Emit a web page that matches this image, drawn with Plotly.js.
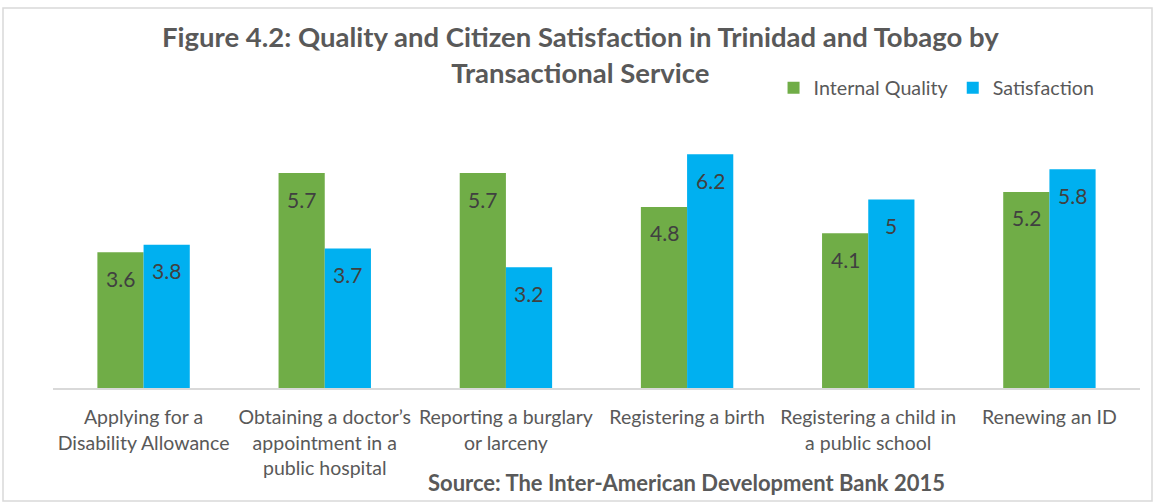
<!DOCTYPE html>
<html><head><meta charset="utf-8">
<script src="https://cdn.plot.ly/plotly-3.0.1.min.js"></script>
<style>html,body{margin:0;padding:0;background:#fff}#c{width:1158px;height:502px}</style>
</head><body><div id="c"></div>
<script>
const categories = [
  "Applying for a<br>Disability Allowance",
  "Obtaining a doctor’s<br>appointment in a<br>public hospital",
  "Reporting a burglary<br>or larceny",
  "Registering a birth",
  "Registering a child in<br>a public school",
  "Renewing an ID"
];
const internalQuality = [3.6, 5.7, 5.7, 4.8, 4.1, 5.2];
const satisfaction = [3.8, 3.7, 3.2, 6.2, 5.0, 5.8];
const seriesNames = ["Internal Quality", "Satisfaction"];
const seriesColors = ['#70AD47', '#00B0F0'];

const FONT = "Lato, 'Open Sans', sans-serif";
const mk = (y, name, color) => ({
  type: 'bar', x: categories, y: y, name: name,
  marker: {color: color}, hoverinfo: 'skip'
});
const data = [mk(internalQuality, seriesNames[0], seriesColors[0]), mk(satisfaction, seriesNames[1], seriesColors[1])];

// plot area: x 53..1140, y 124..388
const PW = 1087, PH = 264, L = 53, T = 124, B = 388;
const px = x => (x - L) / PW, py = y => (B - y) / PH;

const labelAnns = [];
[[internalQuality, -23], [satisfaction, 23]].forEach(([vals, dx]) => {
  vals.forEach((v, i) => labelAnns.push({
    xref: 'x', yref: 'y', x: categories[i], y: v, xshift: dx, yshift: -26,
    xanchor: 'center', yanchor: 'middle', showarrow: false, text: String(v),
    font: {family: FONT, size: 21, color: '#404040'}
  }));
});

const layout = {
  width: 1158, height: 502,
  margin: {l: L, r: 1158 - 1140, t: T, b: 502 - B},
  paper_bgcolor: '#fff', plot_bgcolor: '#fff',
  font: {family: FONT, color: '#595959'},
  barmode: 'group', bargap: 0.49, bargroupgap: 0,
  xaxis: {showline: true, linecolor: '#d9d9d9', linewidth: 2, ticks: '', tickangle: 0, ticklabelstandoff: 11,
    tickfont: {size: 19.5, color: '#595959'}, fixedrange: true, automargin: false},
  yaxis: {range: [0, 7], visible: false, showgrid: false, zeroline: false, fixedrange: true},
  showlegend: true,
  legend: {orientation: 'h', xref: 'container', yref: 'container', x: 0.668, y: 1 - 88/502, xanchor: 'left', yanchor: 'middle',
    font: {size: 19.7, color: '#595959'}, itemwidth: 30, tracegroupgap: 0, bgcolor: 'rgba(0,0,0,0)'},
  annotations: labelAnns.concat([
    {xref: 'paper', yref: 'paper', x: px(580), y: py(55), xanchor: 'center', yanchor: 'middle', showarrow: false,
     text: '<b>Figure 4.2: Quality and Citizen Satisfaction in Trinidad and Tobago by<br>Transactional Service</b>',
     font: {size: 27.5, color: '#595959', family: FONT}},
    {xref: 'paper', yref: 'paper', x: px(686), y: py(482), xanchor: 'center', yanchor: 'middle', showarrow: false,
     text: '<b>Source: The Inter-American Development Bank 2015</b>', font: {size: 22, color: '#595959', family: FONT}}
  ]),
  shapes: [
    {type: 'rect', xref: 'paper', yref: 'paper', x0: px(3), x1: px(1152), y0: py(501), y1: py(8), line: {color: '#d9d9d9', width: 1.5}, fillcolor: 'rgba(0,0,0,0)'}
  ]
};
Plotly.newPlot('c', data, layout, {staticPlot: true, displayModeBar: false});
</script></body></html>
